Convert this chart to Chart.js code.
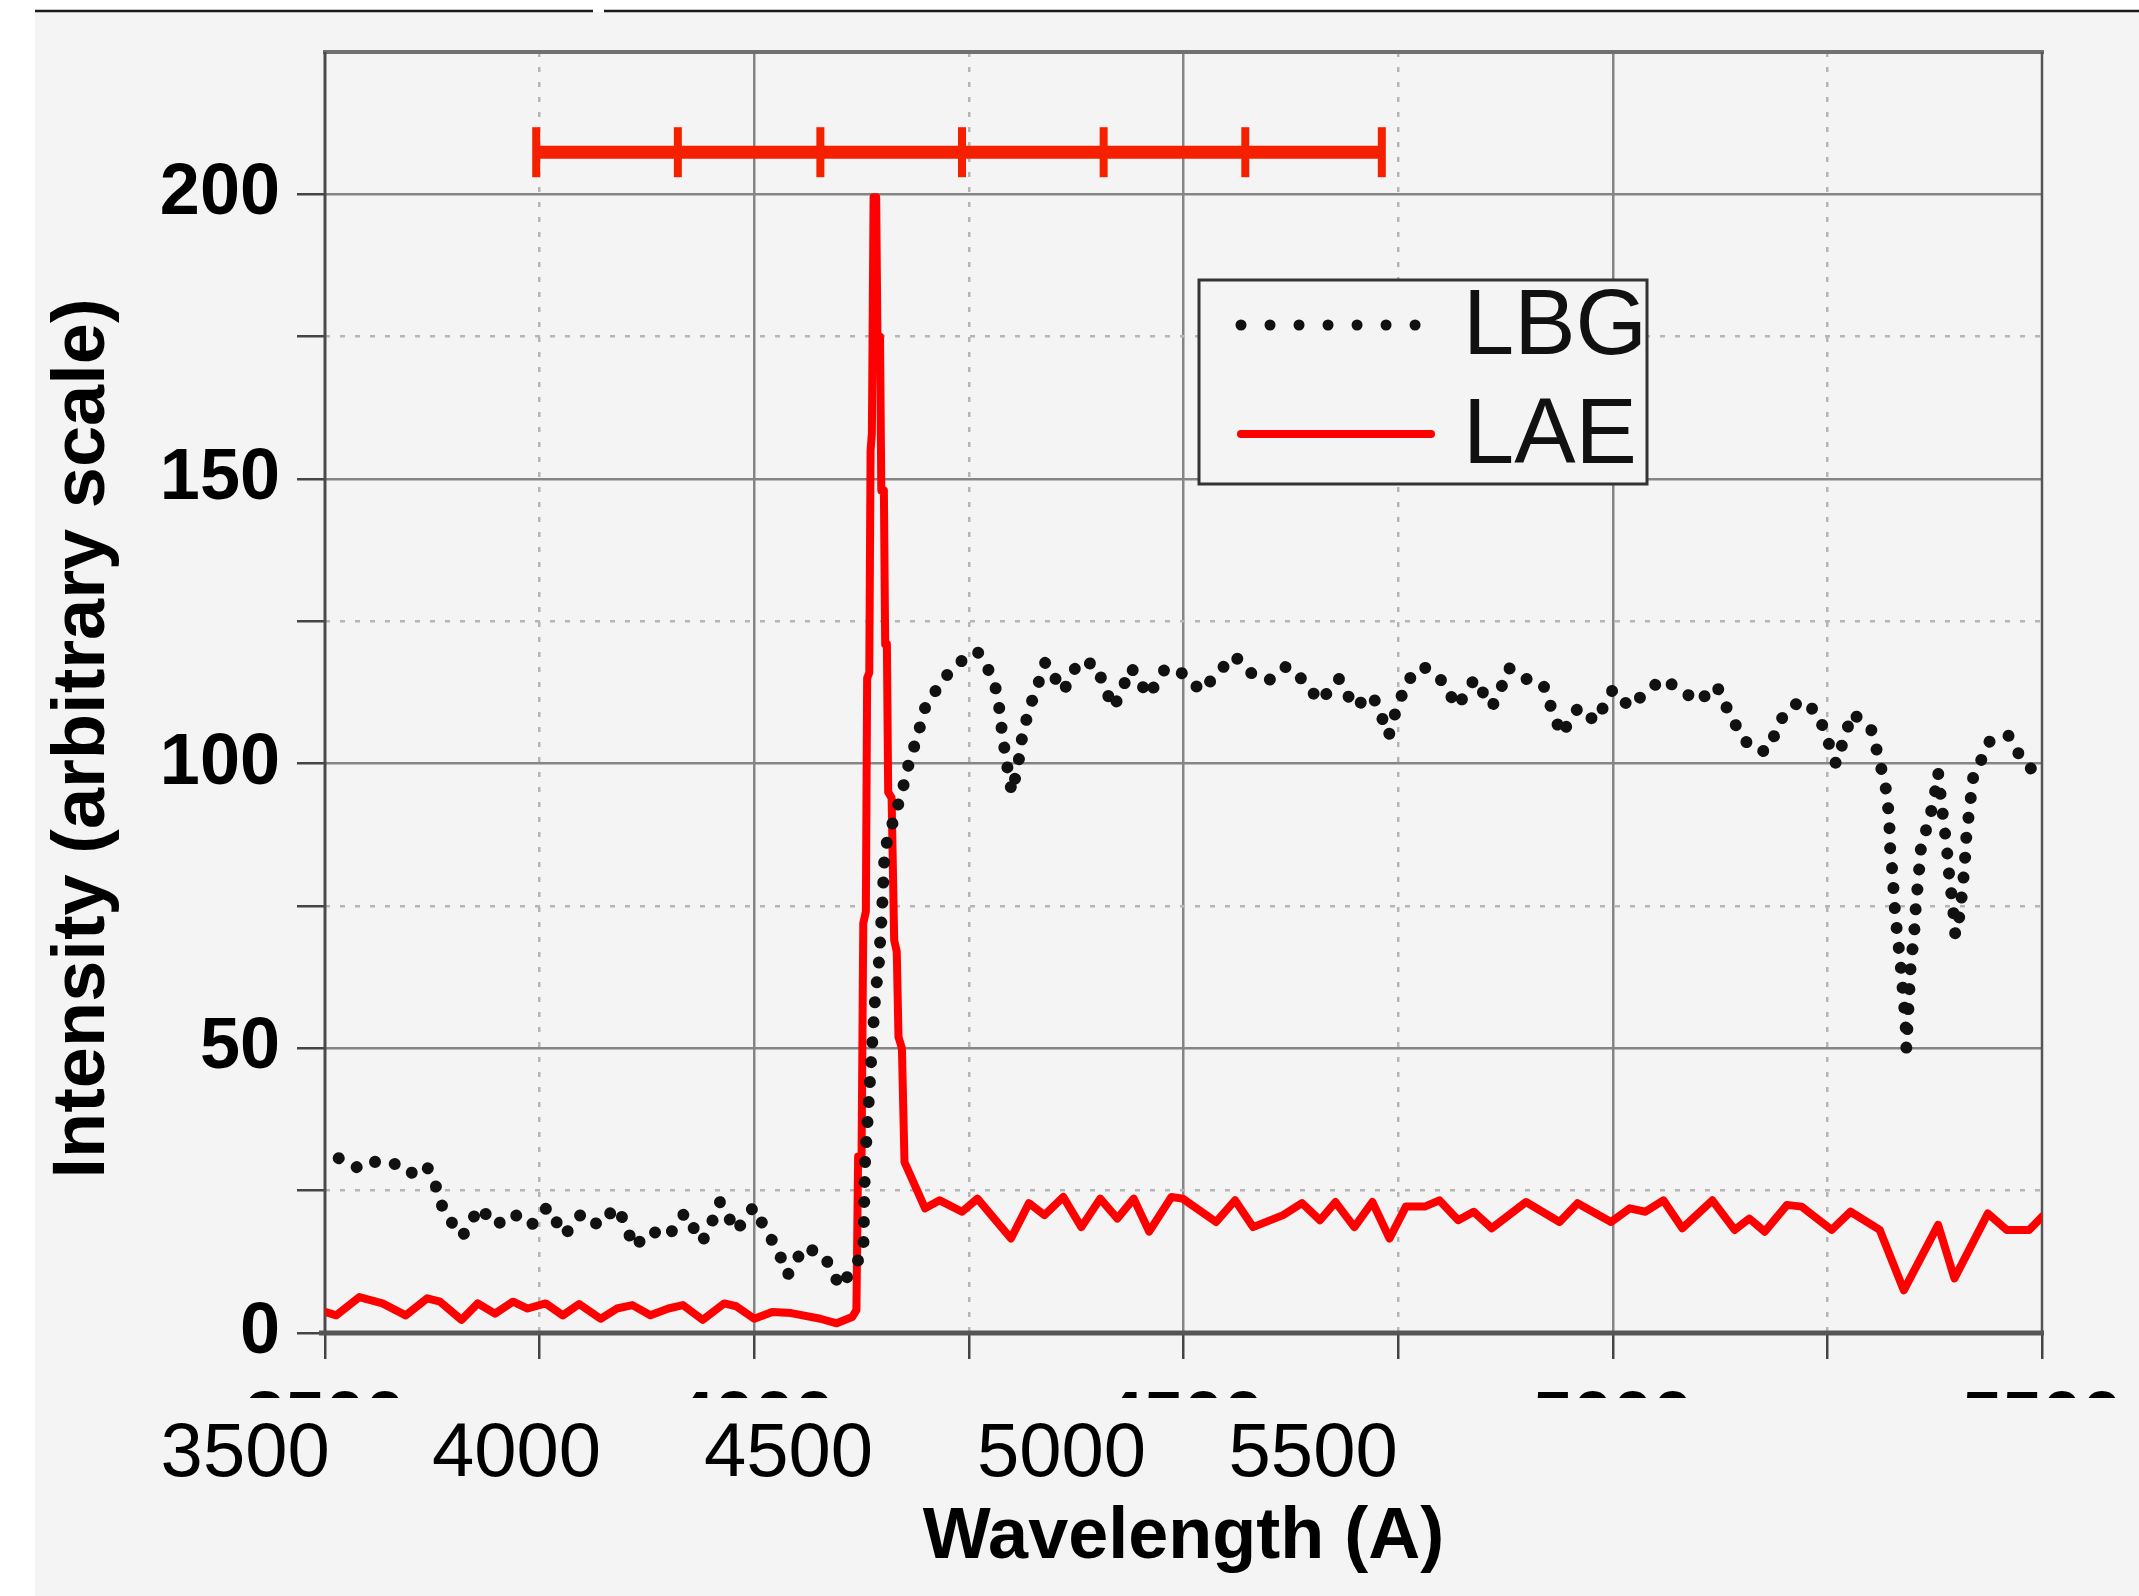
<!DOCTYPE html>
<html><head><meta charset="utf-8">
<script src="https://cdn.jsdelivr.net/npm/chart.js@4/dist/chart.umd.min.js"></script>
<style>html,body{margin:0;padding:0;background:#fff;overflow:hidden}</style>
</head><body><canvas id="c" width="2139" height="1596"></canvas>
<script>
// ---------------- data ----------------
const lbgWavelength = [3516,3540,3559,3580,3599,3618,3628,3639,3660,3680,3699,3719,3740,3759,3779,3799,3819,3839,3847,3860,3879,3900,3919,3939,3947,3960,3979,3999,4018,4026,4039,4058,4081,4100,4110,4127,4129,4133,4137,4141,4145,4149,4152,4162,4172,4180,4190,4199,4219,4239,4260,4279,4285,4289,4294,4300,4307,4312,4320,4328,4339,4360,4378,4398,4404,4418,4425,4439,4459,4479,4500,4521,4539,4559,4579,4600,4620,4639,4659,4681,4699,4719,4726,4739,4748,4761,4779,4799,4819,4839,4859,4866,4879,4899,4919,4928,4940,4960,4980,5000,5020,5040,5059,5079,5100,5121,5139,5159,5178,5185,5200,5219,5239,5248,5260,5268,5279,5301,5310,5318,5322,5323,5326,5328,5331,5335,5338,5341,5342,5347,5351,5353,5356,5359,5364,5373,5379,5381,5385,5389,5392,5396,5399,5403,5407,5410,5412,5416,5420,5424,5439,5461,5479,5497];
const lbgIntensity  = [30.7,28.9,30.1,29.8,28.0,29.5,26.3,21.1,17.0,22.1,18.9,21.0,18.9,22.1,17.2,21.0,18.9,22.1,20.1,15.1,17.9,17.0,21.1,16.0,18.1,23.0,17.9,22.1,16.9,15.1,10.2,15.1,13.7,8.1,10.2,14.2,29.7,39.8,49.9,59.3,64.7,74.7,84.9,90,95,100,104.8,109.8,114.7,117.8,119.7,114.9,110.2,105.1,100.1,94.9,99.5,104.6,109.6,112.8,117.8,112.7,118,117.4,115,109.8,111.8,116.9,111.9,116.8,115.8,112.7,115.8,119,115.9,114.7,117.1,114.7,110.9,114.9,109.9,112.1,110.2,104.9,109.6,114.6,117.1,114.9,110,114.9,110,111.8,116.8,114.9,113.9,110,105.1,109.9,107.4,113,109.9,112.8,114.9,112.9,110.9,113.7,107.8,103,102.1,103.9,108.9,111.1,108.9,105.1,100,103.7,108.9,106,101,95.7,90.7,85.4,80.5,75.5,70.5,65.2,60,54.7,50,64.6,69.9,74.9,79.9,85.2,87.8,92.8,98.4,95.7,90.4,85.4,80.2,75.2,69.9,72.3,77.3,82.5,87.5,92.6,97.8,98.9,103.9,104.9,100.1,98];

const laeWavelength = [3500,3513,3540,3567,3594,3619,3634,3659,3678,3698,3719,3736,3757,3777,3796,3821,3840,3858,3879,3900,3917,3940,3965,3979,4000,4021,4043,4077,4096,4114,4119,4121,4125,4127,4130,4131.5,4134,4135.5,4137,4139,4142,4143.5,4146.5,4148,4151,4152.5,4154.5,4156,4160,4163,4166,4168,4172,4175,4181,4199,4216,4242,4260,4299,4320,4338,4360,4381,4403,4423,4442,4460,4486,4499,4538,4560,4581,4616,4638,4659,4677,4699,4720,4740,4759,4781,4798,4820,4838,4859,4899,4938,4959,4998,5020,5038,5059,5081,5116,5142,5159,5177,5203,5220,5255,5277,5311,5339,5379,5398,5437,5459,5485,5500];
const laeIntensity  = [3.7,3.1,6.3,5.2,3.1,6.1,5.5,2.3,5.2,3.4,5.5,4.3,5.2,3.1,5.1,2.5,4.3,4.9,3.1,4.3,4.9,2.3,5.2,4.7,2.5,3.7,3.5,2.5,1.7,2.8,4,31,31,72,74,115,116,155,158,199.5,199.5,175,175,148,148,121,121,95,94,69,67,52,50,30,28,21.9,23.3,21.3,23.6,16.6,22.8,20.7,23.9,18.6,23.6,20.1,23.6,17.8,23.9,23.6,19.5,23.3,18.6,20.7,22.8,19.8,23,18.6,23,16.6,22.2,22.2,23.3,19.8,21.3,18.4,23,19.5,22.8,19.5,21.9,21.3,23.3,18.4,23.3,18.1,20.1,17.8,22.5,22.2,18.1,21.3,18.1,7.5,19,9.6,21,18.1,18.1,20.4];

// red ruler drawn above the spectra
const rulerWavelength = [3746,3911,4077,4242,4407,4572,4731];
const rulerLevel      = [207.4,207.4,207.4,207.4,207.4,207.4,207.4];

// typed-over axis labels shown under the plot
const overlayTickLabels = ['3500','4000','4500','5000','5500'];

const seriesNames = ['LBG','LAE'];
const xTitle = 'Wavelength (A)';
const yTitle = 'Intensity (arbitrary scale)';

// ---------------- chart ----------------
const FONT = '"Liberation Sans", Arial, Helvetica, sans-serif';
const PANEL = '#f4f4f4';
Chart.defaults.font.family = FONT;
Chart.defaults.color = '#000';

const pts = (xs, ys) => xs.map((x, i) => ({x, y: ys[i]}));

const backgroundPlugin = {
  id: 'bg',
  beforeDraw(chart) {
    const c = chart.ctx;
    c.save();
    c.fillStyle = '#fff';
    c.fillRect(0, 0, chart.width, chart.height);
    c.fillStyle = PANEL;
    c.fillRect(35, 12, chart.width - 35, chart.height - 12);
    c.strokeStyle = '#1a1a1a';
    c.lineWidth = 2.5;
    c.beginPath();
    c.moveTo(35, 11); c.lineTo(593, 11);
    c.moveTo(604, 11); c.lineTo(chart.width, 11);
    c.stroke();
    c.restore();
  }
};

const framePlugin = {
  id: 'frame',
  beforeDatasetsDraw(chart) {
    const {left, right, top, bottom} = chart.chartArea;
    const c = chart.ctx;
    c.save();
    c.lineCap = 'butt';
    c.strokeStyle = '#707070'; c.lineWidth = 4;
    c.beginPath(); c.moveTo(left - 2, top); c.lineTo(right + 2, top); c.stroke();
    c.strokeStyle = '#555'; c.lineWidth = 2.5;
    c.beginPath(); c.moveTo(right, top); c.lineTo(right, bottom); c.stroke();
    c.strokeStyle = '#4a4a4a'; c.lineWidth = 3;
    c.beginPath(); c.moveTo(left, top); c.lineTo(left, bottom); c.stroke();
    c.strokeStyle = '#555'; c.lineWidth = 5;
    c.beginPath(); c.moveTo(left - 6, bottom); c.lineTo(right + 2, bottom); c.stroke();
    c.restore();
  }
};

const overlayPlugin = {
  id: 'overlay',
  afterDraw(chart, args, opts) {
    const c = chart.ctx;
    const xs = chart.scales.x;
    const ca = chart.chartArea;
    c.save();
    // patch pasted over the original tick labels
    c.fillStyle = PANEL;
    c.fillRect(35, opts.coverTop, chart.width - 35, opts.coverHeight);
    c.fillStyle = '#000';
    c.font = '76px ' + FONT;
    c.textAlign = 'center';
    c.textBaseline = 'alphabetic';
    overlayTickLabels.forEach((t, i) => {
      c.fillText(t, xs.getPixelForValue(opts.at[i]), opts.baseline);
    });
    // y axis title
    c.translate(opts.yTitleX, (ca.top + ca.bottom) / 2 + opts.yTitleShift);
    c.rotate(-Math.PI / 2);
    c.font = 'bold 74px ' + FONT;
    c.textBaseline = 'middle';
    c.fillText(yTitle, 0, 0);
    c.restore();
  }
};

const legendPlugin = {
  id: 'boxLegend',
  afterDraw(chart, args, o) {
    const c = chart.ctx;
    c.save();
    c.fillStyle = PANEL;
    c.fillRect(o.x, o.y, o.w, o.h);
    c.strokeStyle = '#333'; c.lineWidth = 3;
    c.strokeRect(o.x, o.y, o.w, o.h);
    seriesNames.forEach((name, i) => {
      const ds = chart.data.datasets[i];
      const cy = o.y + o.rowY[i];
      c.beginPath();
      c.strokeStyle = ds.borderColor;
      c.lineWidth = i === 0 ? 11 : 8;
      c.lineCap = 'round';
      c.setLineDash(i === 0 ? [0.01, 29] : []);
      c.moveTo(o.x + 42, cy); c.lineTo(o.x + 232, cy);
      c.stroke();
      c.setLineDash([]);
      c.fillStyle = '#111';
      c.font = '92px ' + FONT;
      c.textAlign = 'left';
      c.textBaseline = 'middle';
      c.fillText(name, o.x + 264, cy + 4);
    });
    c.restore();
  }
};

new Chart(document.getElementById('c'), {
  type: 'line',
  data: {
    datasets: [
      {
        label: seriesNames[0], data: pts(lbgWavelength, lbgIntensity),
        borderColor: '#111', borderWidth: 12, borderDash: [0.01, 20], borderCapStyle: 'round',
        pointRadius: 0, tension: 0, fill: false
      },
      {
        label: seriesNames[1], data: pts(laeWavelength, laeIntensity),
        borderColor: '#ff0000', borderWidth: 8, borderJoinStyle: 'round', borderCapStyle: 'round',
        pointRadius: 0, tension: 0, fill: false
      },
      {
        label: 'ruler', data: pts(rulerWavelength, rulerLevel),
        borderColor: '#f42000', borderWidth: 13, borderCapStyle: 'butt',
        pointStyle: 'line', rotation: 90, pointRadius: 25,
        pointBorderWidth: 8, pointBorderColor: '#f42000', pointBackgroundColor: '#f42000',
        tension: 0, fill: false
      }
    ]
  },
  options: {
    responsive: false, animation: false, devicePixelRatio: 1,
    layout: {autoPadding: false, padding: {left: 0, top: 52, right: 97, bottom: 0}},
    plugins: {
      legend: {display: false}, tooltip: {enabled: false},
      overlay: {at: [3407, 3723, 4040, 4358, 4651], baseline: 1476, coverTop: 1398, coverHeight: 98,
                yTitleX: 84, yTitleShift: 46},
      boxLegend: {x: 1199, y: 280, w: 448, h: 204, rowY: [45, 154]}
    },
    scales: {
      x: {
        type: 'linear', position: 'bottom', min: 3500, max: 5500,
        afterFit: s => { s.height = 263; s.paddingLeft = 0; s.paddingRight = 0; },
        ticks: {
          stepSize: 250, padding: 20, maxRotation: 0, autoSkip: false,
          font: {size: 72, weight: 'bold'},
          callback: v => (v % 500 === 0 ? String(v) : '')
        },
        grid: {
          color: ctx => (ctx.tick && ctx.tick.value % 500 === 0 && ctx.tick.value > 3500 && ctx.tick.value < 5500) ? '#858585' : 'rgba(0,0,0,0)',
          lineWidth: 2.5, tickColor: '#444', tickWidth: 2.5, tickLength: 26
        },
        border: {display: false},
        title: {display: true, text: xTitle, font: {size: 72, weight: 'bold'}, padding: {top: 0, bottom: 15}}
      },
      xMinor: {
        type: 'linear', position: 'bottom', min: 3500, max: 5500,
        afterFit: s => { s.height = 0; s.paddingLeft = 0; s.paddingRight = 0; },
        ticks: {display: false, stepSize: 250},
        grid: {
          color: ctx => (ctx.tick && ctx.tick.value % 500 !== 0) ? '#b5b5b5' : 'rgba(0,0,0,0)',
          lineWidth: 2.5, drawTicks: false
        },
        border: {display: false, dash: [5, 10]}
      },
      y: {
        type: 'linear', position: 'left', min: 0, max: 225,
        afterFit: s => { s.width = 325; s.paddingTop = 0; s.paddingBottom = 0; },
        ticks: {
          stepSize: 25, padding: 17, font: {size: 72, weight: 'bold'},
          callback: v => (v % 50 === 0 ? String(v) : '')
        },
        grid: {
          color: ctx => (ctx.tick && ctx.tick.value % 50 === 0 && ctx.tick.value > 0 && ctx.tick.value <= 200) ? '#858585' : 'rgba(0,0,0,0)',
          tickColor: ctx => (ctx.tick && ctx.tick.value <= 200) ? '#444' : 'rgba(0,0,0,0)',
          lineWidth: 2.5, tickWidth: 2.5, tickLength: 28
        },
        border: {display: false},
        title: {display: false, text: yTitle}
      },
      yMinor: {
        type: 'linear', position: 'left', min: 0, max: 225,
        afterFit: s => { s.width = 0; s.paddingTop = 0; s.paddingBottom = 0; },
        ticks: {display: false, stepSize: 25},
        grid: {
          color: ctx => (ctx.tick && ctx.tick.value % 50 !== 0 && ctx.tick.value < 225) ? '#b5b5b5' : 'rgba(0,0,0,0)',
          lineWidth: 2.5, drawTicks: false
        },
        border: {display: false, dash: [5, 10]}
      }
    }
  },
  plugins: [backgroundPlugin, framePlugin, overlayPlugin, legendPlugin]
});
</script>
</body></html>
